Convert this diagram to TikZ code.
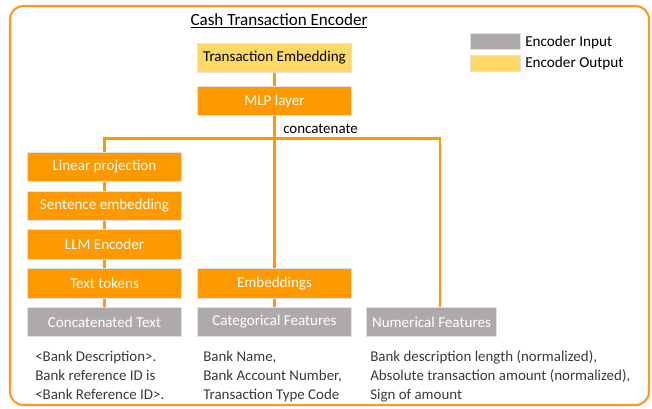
\documentclass[tikz,border=0pt]{standalone}
\usepackage{fontspec}
\setmainfont{Carlito}
\definecolor{encorange}{HTML}{FF9900}
\definecolor{framecol}{HTML}{FF9A1F}
\definecolor{ingray}{HTML}{AEAAAA}
\definecolor{outyellow}{HTML}{FFD966}
\definecolor{edgegray}{HTML}{E0E0E0}
\definecolor{notecol}{HTML}{3A3A3A}
\begin{document}
\begin{tikzpicture}[x=0.75pt,y=-0.75pt,
  blk/.style={draw=edgegray,line width=0.6pt,minimum height=22pt,inner sep=0pt,font=\fontsize{11.3}{13}\selectfont},
  layer/.style={blk,fill=encorange,text=white},
  inbox/.style={blk,fill=ingray,text=white},
  outbox/.style={blk,fill=outyellow,text=black},
  link/.style={draw=encorange,line width=1.6pt},
  note/.style={align=left,anchor=north west,inner sep=0pt,text=notecol,font=\fontsize{11.2}{14.3}\selectfont},
  legtext/.style={anchor=west,inner sep=0pt,font=\fontsize{11.4}{13}\selectfont}]
\useasboundingbox (0,0) rectangle (652,408);
% outer frame
\draw[framecol,line width=1.6pt,rounded corners=10pt] (10,6) rectangle (649,405);
% title
\node[font=\fontsize{12.8}{14}\selectfont] (title) at (279,21) {\underline{Cash Transaction Encoder}};
% legend
\node[inbox,minimum width=37.5pt,minimum height=12.5pt] (legin) at (495,41.5) {};
\node[outbox,minimum width=37.5pt,minimum height=12.5pt] (legout) at (495,63.5) {};
\node[legtext] (legintext) at (525,42) {Encoder Input};
\node[legtext] (legouttext) at (525,63.5) {Encoder Output};
% output and fusion
\node[outbox,minimum width=116pt] (temb) at (274.5,58) {Transaction Embedding};
\node[layer,minimum width=116pt] (mlp) at (274.5,101) {MLP layer};
% text branch
\node[layer,minimum width=116pt] (lin) at (104.5,167) {Linear projection};
\node[layer,minimum width=116pt] (sent) at (104.5,206) {Sentence embedding};
\node[layer,minimum width=116pt] (llm) at (104.5,244.5) {LLM Encoder};
\node[layer,minimum width=116pt] (tok) at (104.5,283.5) {Text tokens};
\node[inbox,minimum width=116pt] (ctext) at (104.5,322) {Concatenated Text};
% categorical branch
\node[layer,minimum width=116pt] (emb) at (274.5,283.5) {Embeddings};
\node[inbox,minimum width=116pt] (cat) at (274.5,322) {Categorical Features};
% numerical branch
\node[inbox,minimum width=98pt] (num) at (431.5,322) {Numerical Features};
% connectors
\coordinate (bus) at (274.5,138.5);
\draw[link] (temb) -- (mlp);
\draw[link] (mlp) -- (bus);
\draw[link] (lin.north) |- (bus) -| (num.north -| 440,0);
\draw[link] (bus) -- (emb.north);
\draw[link] (lin) -- (sent);
\draw[link] (sent) -- (llm);
\draw[link] (llm) -- (tok);
\draw[link] (tok) -- (ctext);
\draw[link] (emb) -- (cat);
\node[anchor=south west,inner sep=0pt,font=\fontsize{11.2}{13}\selectfont] (concat) at (283,134) {concatenate};
% feature descriptions
\node[note] (ntext) at (35,350.5) {<Bank Description>.\\Bank reference ID is\\<Bank Reference ID>.};
\node[note] (ncat) at (203,350.5) {Bank Name,\\Bank Account Number,\\Transaction Type Code};
\node[note] (nnum) at (370,350.5) {Bank description length (normalized),\\Absolute transaction amount (normalized),\\Sign of amount};
\end{tikzpicture}
\end{document}
